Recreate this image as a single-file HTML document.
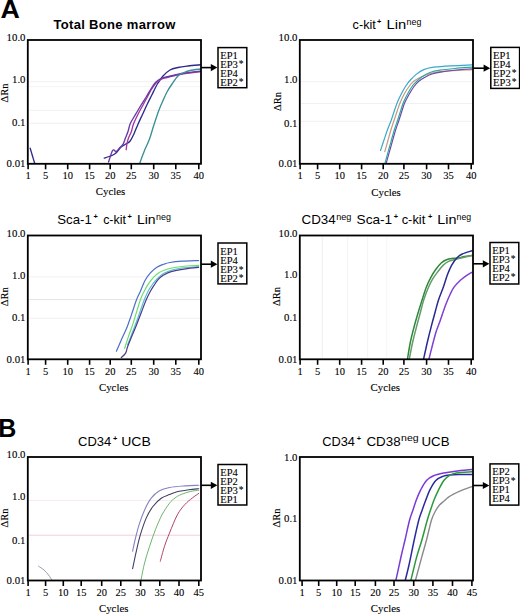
<!DOCTYPE html>
<html><head><meta charset="utf-8"><style>
html,body{margin:0;padding:0;background:#fff;width:520px;height:615px;overflow:hidden}
svg{display:block}
.s{stroke:#000;stroke-width:0.1px}
</style></head><body>
<svg width="520" height="615" viewBox="0 0 520 615">
<rect width="520" height="615" fill="#fff"/>
<line x1="28.80" y1="81.70" x2="200.00" y2="81.70" stroke="#f1f1f1" stroke-width="1"/>
<line x1="28.80" y1="86.60" x2="200.00" y2="86.60" stroke="#f4f4f4" stroke-width="1"/>
<line x1="28.80" y1="110.40" x2="200.00" y2="110.40" stroke="#f1f1f1" stroke-width="1"/>
<line x1="28.80" y1="123.30" x2="200.00" y2="123.30" stroke="#f1f1f1" stroke-width="1"/>
<line x1="300.80" y1="81.70" x2="472.00" y2="81.70" stroke="#f1f1f1" stroke-width="1"/>
<line x1="300.80" y1="103.50" x2="472.00" y2="103.50" stroke="#f1f1f1" stroke-width="1"/>
<line x1="300.80" y1="121.30" x2="472.00" y2="121.30" stroke="#f1f1f1" stroke-width="1"/>
<line x1="28.80" y1="276.90" x2="200.00" y2="276.90" stroke="#f1f1f1" stroke-width="1"/>
<line x1="28.80" y1="299.60" x2="200.00" y2="299.60" stroke="#e4e4e4" stroke-width="1"/>
<line x1="28.80" y1="318.30" x2="200.00" y2="318.30" stroke="#f1f1f1" stroke-width="1"/>
<line x1="322.20" y1="236.50" x2="322.20" y2="358.30" stroke="#eeeeee" stroke-width="1"/>
<line x1="347.60" y1="236.50" x2="347.60" y2="358.30" stroke="#f3f3f3" stroke-width="1"/>
<line x1="367.70" y1="236.50" x2="367.70" y2="358.30" stroke="#f3f3f3" stroke-width="1"/>
<line x1="386.70" y1="236.50" x2="386.70" y2="358.30" stroke="#f5f5f5" stroke-width="1"/>
<line x1="28.80" y1="535.20" x2="200.00" y2="535.20" stroke="#f0d0d4" stroke-width="1"/>
<line x1="28.80" y1="500.50" x2="200.00" y2="500.50" stroke="#f8eaec" stroke-width="1"/>
<clipPath id="cp0"><rect x="27.80" y="40.00" width="173.20" height="123.80"/></clipPath>
<clipPath id="cp1"><rect x="299.80" y="40.00" width="173.20" height="123.80"/></clipPath>
<clipPath id="cp2"><rect x="27.80" y="235.50" width="173.20" height="123.80"/></clipPath>
<clipPath id="cp3"><rect x="299.80" y="235.50" width="173.20" height="123.80"/></clipPath>
<clipPath id="cp4"><rect x="27.80" y="457.00" width="173.20" height="123.50"/></clipPath>
<clipPath id="cp5"><rect x="299.80" y="457.00" width="173.20" height="123.50"/></clipPath>
<path d="M30.20,148.20 C30.57,149.45 31.63,153.10 32.40,155.70 C33.17,158.30 34.40,162.45 34.80,163.80" fill="none" stroke="#2e2a8c" stroke-width="1.35" clip-path="url(#cp0)" stroke-linejoin="round" stroke-linecap="round"/>
<path d="M104.20,158.10 C105.03,157.83 107.33,157.27 109.20,156.50 C111.07,155.73 113.47,155.03 115.40,153.50 C117.33,151.97 119.13,148.85 120.80,147.30 C122.47,145.75 123.87,145.22 125.40,144.20 C126.93,143.18 128.60,142.87 130.00,141.20 C131.40,139.53 132.47,137.03 133.80,134.20 C135.13,131.37 136.53,127.53 138.00,124.20 C139.47,120.87 141.07,117.53 142.60,114.20 C144.13,110.87 145.67,107.40 147.20,104.20 C148.73,101.00 150.50,97.62 151.80,95.00 C153.10,92.38 153.97,90.50 155.00,88.50 C156.03,86.50 156.67,85.08 158.00,83.00 C159.33,80.92 161.00,78.17 163.00,76.00 C165.00,73.83 167.50,71.42 170.00,70.00 C172.50,68.58 175.00,68.17 178.00,67.50 C181.00,66.83 184.17,66.47 188.00,66.00 C191.83,65.53 198.83,64.92 201.00,64.70" fill="none" stroke="#2e2a8c" stroke-width="1.35" clip-path="url(#cp0)" stroke-linejoin="round" stroke-linecap="round"/>
<path d="M126.20,149.60 C126.32,148.70 126.52,146.12 126.90,144.20 C127.28,142.28 127.73,140.27 128.50,138.10 C129.27,135.93 130.68,133.52 131.50,131.20 C132.32,128.88 132.32,127.03 133.40,124.20 C134.48,121.37 136.33,117.53 138.00,114.20 C139.67,110.87 141.73,107.27 143.40,104.20 C145.07,101.13 146.73,98.17 148.00,95.80 C149.27,93.43 150.00,91.72 151.00,90.00 C152.00,88.28 152.92,86.87 154.00,85.50 C155.08,84.13 156.17,82.88 157.50,81.80 C158.83,80.72 160.42,79.72 162.00,79.00 C163.58,78.28 164.83,78.08 167.00,77.50 C169.17,76.92 172.00,76.17 175.00,75.50 C178.00,74.83 180.67,74.15 185.00,73.50 C189.33,72.85 198.33,71.92 201.00,71.60" fill="none" stroke="#a03a9e" stroke-width="1.35" clip-path="url(#cp0)" stroke-linejoin="round" stroke-linecap="round"/>
<path d="M108.50,162.00 C109.20,160.07 111.42,152.15 112.70,150.40 C113.98,148.65 114.98,151.98 116.20,151.50 C117.42,151.02 118.85,148.72 120.00,147.50 C121.15,146.28 122.20,145.77 123.10,144.20 C124.00,142.63 124.57,140.27 125.40,138.10 C126.23,135.93 127.28,133.63 128.10,131.20 C128.92,128.77 129.03,126.33 130.30,123.50 C131.57,120.67 133.90,117.28 135.70,114.20 C137.50,111.12 139.30,107.95 141.10,105.00 C142.90,102.05 145.02,98.92 146.50,96.50 C147.98,94.08 148.92,92.28 150.00,90.50 C151.08,88.72 152.00,87.22 153.00,85.80 C154.00,84.38 154.67,83.22 156.00,82.00 C157.33,80.78 159.33,79.33 161.00,78.50 C162.67,77.67 163.67,77.58 166.00,77.00 C168.33,76.42 171.83,75.67 175.00,75.00 C178.17,74.33 180.67,73.67 185.00,73.00 C189.33,72.33 198.33,71.33 201.00,71.00" fill="none" stroke="#6a3aa8" stroke-width="1.35" clip-path="url(#cp0)" stroke-linejoin="round" stroke-linecap="round"/>
<path d="M139.50,163.80 C140.38,161.47 143.12,153.97 144.80,149.80 C146.48,145.63 148.17,142.68 149.60,138.80 C151.03,134.92 151.87,131.23 153.40,126.50 C154.93,121.77 157.13,114.88 158.80,110.40 C160.47,105.92 162.03,102.67 163.40,99.60 C164.77,96.53 165.57,94.60 167.00,92.00 C168.43,89.40 170.17,86.67 172.00,84.00 C173.83,81.33 176.17,77.83 178.00,76.00 C179.83,74.17 181.00,73.92 183.00,73.00 C185.00,72.08 187.00,71.17 190.00,70.50 C193.00,69.83 199.17,69.25 201.00,69.00" fill="none" stroke="#3a8f95" stroke-width="1.35" clip-path="url(#cp0)" stroke-linejoin="round" stroke-linecap="round"/>
<path d="M380.50,150.50 C381.08,148.75 382.85,143.42 384.00,140.00 C385.15,136.58 386.18,133.33 387.40,130.00 C388.62,126.67 390.15,123.17 391.30,120.00 C392.45,116.83 393.28,113.95 394.30,111.00 C395.32,108.05 396.20,105.22 397.40,102.30 C398.60,99.38 400.05,96.30 401.50,93.50 C402.95,90.70 404.62,87.75 406.10,85.50 C407.58,83.25 408.72,81.85 410.40,80.00 C412.08,78.15 413.97,76.13 416.20,74.40 C418.43,72.67 420.92,70.80 423.80,69.60 C426.68,68.40 429.97,67.77 433.50,67.20 C437.03,66.63 438.58,66.58 445.00,66.20 C451.42,65.82 467.50,65.12 472.00,64.90" fill="none" stroke="#3aa8c8" stroke-width="1.2" clip-path="url(#cp1)" stroke-linejoin="round" stroke-linecap="round"/>
<path d="M384.80,151.60 C385.30,149.83 386.78,144.60 387.80,141.00 C388.82,137.40 389.83,133.50 390.90,130.00 C391.97,126.50 393.15,123.17 394.20,120.00 C395.25,116.83 396.18,113.95 397.20,111.00 C398.22,108.05 399.08,105.22 400.30,102.30 C401.52,99.38 402.92,96.30 404.50,93.50 C406.08,90.70 408.22,87.58 409.80,85.50 C411.38,83.42 412.30,82.33 414.00,81.00 C415.70,79.67 417.83,78.58 420.00,77.50 C422.17,76.42 424.33,75.37 427.00,74.50 C429.67,73.63 433.00,72.85 436.00,72.30 C439.00,71.75 439.00,71.65 445.00,71.20 C451.00,70.75 467.50,69.87 472.00,69.60" fill="none" stroke="#c49a80" stroke-width="1.2" clip-path="url(#cp1)" stroke-linejoin="round" stroke-linecap="round"/>
<path d="M386.00,163.80 C386.75,161.17 388.95,153.47 390.50,148.00 C392.05,142.53 393.93,135.50 395.30,131.00 C396.67,126.50 397.65,124.17 398.70,121.00 C399.75,117.83 400.63,114.95 401.60,112.00 C402.57,109.05 403.27,106.22 404.50,103.30 C405.73,100.38 407.42,97.30 409.00,94.50 C410.58,91.70 412.42,88.67 414.00,86.50 C415.58,84.33 416.75,83.00 418.50,81.50 C420.25,80.00 422.25,78.75 424.50,77.50 C426.75,76.25 429.08,74.95 432.00,74.00 C434.92,73.05 437.83,72.47 442.00,71.80 C446.17,71.13 452.00,70.50 457.00,70.00 C462.00,69.50 469.50,69.00 472.00,68.80" fill="none" stroke="#7048a8" stroke-width="1.2" clip-path="url(#cp1)" stroke-linejoin="round" stroke-linecap="round"/>
<path d="M384.80,163.80 C385.58,161.00 387.92,152.63 389.50,147.00 C391.08,141.37 392.93,134.50 394.30,130.00 C395.67,125.50 396.65,123.17 397.70,120.00 C398.75,116.83 399.63,113.95 400.60,111.00 C401.57,108.05 402.30,105.22 403.50,102.30 C404.70,99.38 406.27,96.30 407.80,93.50 C409.33,90.70 411.17,87.58 412.70,85.50 C414.23,83.42 415.37,82.50 417.00,81.00 C418.63,79.50 420.33,77.92 422.50,76.50 C424.67,75.08 427.08,73.55 430.00,72.50 C432.92,71.45 435.83,70.87 440.00,70.20 C444.17,69.53 449.67,69.00 455.00,68.50 C460.33,68.00 469.17,67.42 472.00,67.20" fill="none" stroke="#30a8a0" stroke-width="1.2" clip-path="url(#cp1)" stroke-linejoin="round" stroke-linecap="round"/>
<path d="M116.40,351.20 C117.28,349.17 120.00,342.82 121.70,339.00 C123.40,335.18 124.97,332.37 126.60,328.30 C128.23,324.23 129.87,319.32 131.50,314.60 C133.13,309.88 134.92,303.90 136.40,300.00 C137.88,296.10 138.97,294.45 140.40,291.20 C141.83,287.95 143.33,283.57 145.00,280.50 C146.67,277.43 148.35,275.05 150.40,272.80 C152.45,270.55 155.12,268.42 157.30,267.00 C159.48,265.58 161.38,265.05 163.50,264.30 C165.62,263.55 166.92,263.02 170.00,262.50 C173.08,261.98 177.23,261.52 182.00,261.20 C186.77,260.88 195.83,260.70 198.60,260.60" fill="none" stroke="#4a6ec8" stroke-width="1.2" clip-path="url(#cp2)" stroke-linejoin="round" stroke-linecap="round"/>
<path d="M124.60,348.50 C125.27,346.43 127.13,340.45 128.60,336.10 C130.07,331.75 131.45,328.42 133.40,322.40 C135.35,316.38 138.50,305.20 140.30,300.00 C142.10,294.80 142.90,293.82 144.20,291.20 C145.50,288.58 146.55,286.60 148.10,284.30 C149.65,282.00 151.72,279.32 153.50,277.40 C155.28,275.48 157.13,273.95 158.80,272.80 C160.47,271.65 161.30,271.30 163.50,270.50 C165.70,269.70 168.92,268.67 172.00,268.00 C175.08,267.33 177.57,266.95 182.00,266.50 C186.43,266.05 195.83,265.50 198.60,265.30" fill="none" stroke="#70dc70" stroke-width="1.2" clip-path="url(#cp2)" stroke-linejoin="round" stroke-linecap="round"/>
<path d="M127.60,344.80 C128.42,342.70 130.88,336.42 132.50,332.20 C134.12,327.98 135.35,324.87 137.30,319.50 C139.25,314.13 142.40,304.72 144.20,300.00 C146.00,295.28 146.80,293.70 148.10,291.20 C149.40,288.70 150.52,287.03 152.00,285.00 C153.48,282.97 155.08,280.92 157.00,279.00 C158.92,277.08 161.00,275.00 163.50,273.50 C166.00,272.00 168.92,270.92 172.00,270.00 C175.08,269.08 177.57,268.58 182.00,268.00 C186.43,267.42 195.83,266.75 198.60,266.50" fill="none" stroke="#58c0c8" stroke-width="1.2" clip-path="url(#cp2)" stroke-linejoin="round" stroke-linecap="round"/>
<path d="M121.30,357.50 C122.02,356.77 124.55,354.88 125.60,353.10 C126.65,351.32 126.62,349.48 127.60,346.80 C128.58,344.12 130.03,340.58 131.50,337.00 C132.97,333.42 134.78,329.35 136.40,325.30 C138.02,321.25 139.58,316.92 141.20,312.70 C142.82,308.48 144.57,303.58 146.10,300.00 C147.63,296.42 149.05,293.68 150.40,291.20 C151.75,288.72 152.92,287.02 154.20,285.10 C155.48,283.18 156.55,281.37 158.10,279.70 C159.65,278.03 161.45,276.42 163.50,275.10 C165.55,273.78 166.68,272.85 170.40,271.80 C174.12,270.75 181.10,269.53 185.80,268.80 C190.50,268.07 196.47,267.63 198.60,267.40" fill="none" stroke="#4a3a90" stroke-width="1.2" clip-path="url(#cp2)" stroke-linejoin="round" stroke-linecap="round"/>
<path d="M407.30,360.00 C407.83,356.92 409.28,347.33 410.50,341.50 C411.72,335.67 413.27,330.00 414.60,325.00 C415.93,320.00 417.25,315.67 418.50,311.50 C419.75,307.33 420.80,304.03 422.10,300.00 C423.40,295.97 424.88,291.00 426.30,287.30 C427.72,283.60 429.00,280.80 430.60,277.80 C432.20,274.80 434.13,271.77 435.90,269.30 C437.67,266.83 439.43,264.58 441.20,263.00 C442.97,261.42 444.75,260.55 446.50,259.80 C448.25,259.05 449.95,258.77 451.70,258.50 C453.45,258.23 454.88,258.52 457.00,258.20 C459.12,257.88 461.92,257.07 464.40,256.60 C466.88,256.13 470.65,255.60 471.90,255.40" fill="none" stroke="#2a8a3a" stroke-width="1.5" clip-path="url(#cp3)" stroke-linejoin="round" stroke-linecap="round"/>
<path d="M409.10,360.00 C409.72,356.92 411.48,347.33 412.80,341.50 C414.12,335.67 415.72,329.92 417.00,325.00 C418.28,320.08 419.38,316.17 420.50,312.00 C421.62,307.83 422.37,304.12 423.70,300.00 C425.03,295.88 427.00,290.82 428.50,287.30 C430.00,283.78 431.12,281.53 432.70,278.90 C434.28,276.27 436.23,273.80 438.00,271.50 C439.77,269.20 441.53,266.78 443.30,265.10 C445.07,263.42 446.83,262.28 448.60,261.40 C450.37,260.52 451.62,260.42 453.90,259.80 C456.18,259.18 459.30,258.40 462.30,257.70 C465.30,257.00 470.30,255.95 471.90,255.60" fill="none" stroke="#6a9a6a" stroke-width="1.5" clip-path="url(#cp3)" stroke-linejoin="round" stroke-linecap="round"/>
<path d="M423.40,360.00 C424.08,356.92 426.13,347.32 427.50,341.50 C428.87,335.68 430.30,330.10 431.60,325.10 C432.90,320.10 434.15,315.68 435.30,311.50 C436.45,307.32 437.17,304.03 438.50,300.00 C439.83,295.97 441.80,291.53 443.30,287.30 C444.80,283.07 446.10,278.30 447.50,274.60 C448.90,270.90 450.12,267.92 451.70,265.10 C453.28,262.28 455.23,259.55 457.00,257.70 C458.77,255.85 459.82,255.15 462.30,254.00 C464.78,252.85 470.30,251.33 471.90,250.80" fill="none" stroke="#2a2a90" stroke-width="1.5" clip-path="url(#cp3)" stroke-linejoin="round" stroke-linecap="round"/>
<path d="M428.70,360.00 C429.33,357.50 431.28,349.67 432.50,345.00 C433.72,340.33 434.98,335.33 436.00,332.00 C437.02,328.67 437.87,327.00 438.60,325.00 C439.33,323.00 439.20,323.40 440.40,320.00 C441.60,316.60 444.13,308.97 445.80,304.60 C447.47,300.23 449.00,296.75 450.40,293.80 C451.80,290.85 452.53,289.15 454.20,286.90 C455.87,284.65 458.43,282.15 460.40,280.30 C462.37,278.45 464.08,277.13 466.00,275.80 C467.92,274.47 470.92,272.88 471.90,272.30" fill="none" stroke="#8040d0" stroke-width="1.5" clip-path="url(#cp3)" stroke-linejoin="round" stroke-linecap="round"/>
<path d="M132.60,551.30 C133.08,549.08 134.33,542.70 135.50,538.00 C136.67,533.30 138.08,527.78 139.60,523.10 C141.12,518.42 142.67,514.05 144.60,509.90 C146.53,505.75 148.72,501.38 151.20,498.20 C153.68,495.02 156.45,492.58 159.50,490.80 C162.55,489.02 165.28,488.32 169.50,487.50 C173.72,486.68 179.92,486.27 184.80,485.90 C189.68,485.53 196.47,485.40 198.80,485.30" fill="none" stroke="#8484c4" stroke-width="1.1" clip-path="url(#cp4)" stroke-linejoin="round" stroke-linecap="round"/>
<path d="M132.60,568.70 C133.22,565.80 135.00,556.97 136.30,551.30 C137.60,545.63 138.75,540.23 140.40,534.70 C142.05,529.17 144.12,522.80 146.20,518.10 C148.28,513.40 150.40,509.82 152.90,506.50 C155.40,503.18 158.43,500.18 161.20,498.20 C163.97,496.22 167.12,495.60 169.50,494.60 C171.88,493.60 172.32,493.00 175.50,492.20 C178.68,491.40 184.72,490.38 188.60,489.80 C192.48,489.22 197.10,488.88 198.80,488.70" fill="none" stroke="#404064" stroke-width="1.1" clip-path="url(#cp4)" stroke-linejoin="round" stroke-linecap="round"/>
<path d="M140.80,581.00 C141.43,577.98 143.13,568.68 144.60,562.90 C146.07,557.12 147.80,551.82 149.60,546.30 C151.40,540.78 153.33,535.05 155.40,529.80 C157.47,524.55 159.65,519.23 162.00,514.80 C164.35,510.37 167.33,506.00 169.50,503.20 C171.67,500.40 173.07,499.45 175.00,498.00 C176.93,496.55 178.53,495.58 181.10,494.50 C183.67,493.42 187.45,492.22 190.40,491.50 C193.35,490.78 197.40,490.42 198.80,490.20" fill="none" stroke="#6cb46c" stroke-width="1.0" clip-path="url(#cp4)" stroke-linejoin="round" stroke-linecap="round"/>
<path d="M160.30,561.30 C161.00,558.80 162.97,551.00 164.50,546.30 C166.03,541.60 167.37,538.33 169.50,533.10 C171.63,527.87 174.75,519.65 177.30,514.90 C179.85,510.15 182.30,507.42 184.80,504.60 C187.30,501.78 189.97,499.87 192.30,498.00 C194.63,496.13 197.72,494.17 198.80,493.40" fill="none" stroke="#b04468" stroke-width="1.0" clip-path="url(#cp4)" stroke-linejoin="round" stroke-linecap="round"/>
<path d="M38.50,566.20 C39.42,566.83 42.33,568.53 44.00,570.00 C45.67,571.47 47.08,573.17 48.50,575.00 C49.92,576.83 51.83,580.00 52.50,581.00" fill="none" stroke="#9a9aaa" stroke-width="1.0" clip-path="url(#cp4)" stroke-linejoin="round" stroke-linecap="round"/>
<path d="M395.50,582.00 C396.47,577.58 399.72,562.50 401.30,555.50 C402.88,548.50 403.62,545.92 405.00,540.00 C406.38,534.08 408.27,525.00 409.60,520.00 C410.93,515.00 411.88,513.33 413.00,510.00 C414.12,506.67 415.00,503.38 416.30,500.00 C417.60,496.62 419.10,492.95 420.80,489.70 C422.50,486.45 424.38,482.82 426.50,480.50 C428.62,478.18 430.62,477.05 433.50,475.80 C436.38,474.55 440.15,473.77 443.80,473.00 C447.45,472.23 450.70,471.78 455.40,471.20 C460.10,470.62 469.23,469.78 472.00,469.50" fill="none" stroke="#7a3ad8" stroke-width="1.5" clip-path="url(#cp5)" stroke-linejoin="round" stroke-linecap="round"/>
<path d="M404.80,582.00 C405.50,579.17 407.43,572.00 409.00,565.00 C410.57,558.00 412.57,547.50 414.20,540.00 C415.83,532.50 417.47,525.00 418.80,520.00 C420.13,515.00 421.07,513.25 422.20,510.00 C423.33,506.75 424.30,503.88 425.60,500.50 C426.90,497.12 428.30,493.03 430.00,489.70 C431.70,486.37 433.68,482.72 435.80,480.50 C437.92,478.28 440.40,477.33 442.70,476.40 C445.00,475.47 446.53,475.22 449.60,474.90 C452.67,474.58 457.37,474.57 461.10,474.50 C464.83,474.43 470.18,474.50 472.00,474.50" fill="none" stroke="#2a2aa0" stroke-width="1.5" clip-path="url(#cp5)" stroke-linejoin="round" stroke-linecap="round"/>
<path d="M410.50,582.00 C411.50,577.93 414.60,564.60 416.50,557.60 C418.40,550.60 420.10,546.27 421.90,540.00 C423.70,533.73 425.87,525.00 427.30,520.00 C428.73,515.00 429.38,513.33 430.50,510.00 C431.62,506.67 432.73,503.20 434.00,500.00 C435.27,496.80 436.47,494.05 438.10,490.80 C439.73,487.55 441.88,483.08 443.80,480.50 C445.72,477.92 447.48,476.55 449.60,475.30 C451.72,474.05 452.77,473.58 456.50,473.00 C460.23,472.42 469.42,472.00 472.00,471.80" fill="none" stroke="#2a9a3a" stroke-width="1.5" clip-path="url(#cp5)" stroke-linejoin="round" stroke-linecap="round"/>
<path d="M415.00,582.00 C416.10,577.93 419.68,564.60 421.60,557.60 C423.52,550.60 424.85,546.27 426.50,540.00 C428.15,533.73 430.00,524.83 431.50,520.00 C433.00,515.17 434.17,513.50 435.50,511.00 C436.83,508.50 438.12,506.63 439.50,505.00 C440.88,503.37 442.38,502.45 443.80,501.20 C445.22,499.95 446.45,498.65 448.00,497.50 C449.55,496.35 450.53,495.60 453.10,494.30 C455.67,493.00 460.25,490.98 463.40,489.70 C466.55,488.42 470.57,487.12 472.00,486.60" fill="none" stroke="#8a8a8a" stroke-width="1.4" clip-path="url(#cp5)" stroke-linejoin="round" stroke-linecap="round"/>
<rect x="27.80" y="40.00" width="173.20" height="123.80" fill="none" stroke="#000" stroke-width="1.8"/>
<line x1="28.10" y1="163.80" x2="28.10" y2="169.30" stroke="#000" stroke-width="1.6"/>
<text x="28.10" y="179.10" class="s" font-family='"Liberation Serif", serif' font-size="10.5" text-anchor="middle">1</text>
<line x1="45.60" y1="163.80" x2="45.60" y2="169.30" stroke="#000" stroke-width="1.6"/>
<text x="45.60" y="179.10" class="s" font-family='"Liberation Serif", serif' font-size="10.5" text-anchor="middle">5</text>
<line x1="67.70" y1="163.80" x2="67.70" y2="169.30" stroke="#000" stroke-width="1.6"/>
<text x="67.70" y="179.10" class="s" font-family='"Liberation Serif", serif' font-size="10.5" text-anchor="middle">10</text>
<line x1="89.60" y1="163.80" x2="89.60" y2="169.30" stroke="#000" stroke-width="1.6"/>
<text x="89.60" y="179.10" class="s" font-family='"Liberation Serif", serif' font-size="10.5" text-anchor="middle">15</text>
<line x1="110.20" y1="163.80" x2="110.20" y2="169.30" stroke="#000" stroke-width="1.6"/>
<text x="110.20" y="179.10" class="s" font-family='"Liberation Serif", serif' font-size="10.5" text-anchor="middle">20</text>
<line x1="131.30" y1="163.80" x2="131.30" y2="169.30" stroke="#000" stroke-width="1.6"/>
<text x="131.30" y="179.10" class="s" font-family='"Liberation Serif", serif' font-size="10.5" text-anchor="middle">25</text>
<line x1="153.70" y1="163.80" x2="153.70" y2="169.30" stroke="#000" stroke-width="1.6"/>
<text x="153.70" y="179.10" class="s" font-family='"Liberation Serif", serif' font-size="10.5" text-anchor="middle">30</text>
<line x1="175.80" y1="163.80" x2="175.80" y2="169.30" stroke="#000" stroke-width="1.6"/>
<text x="175.80" y="179.10" class="s" font-family='"Liberation Serif", serif' font-size="10.5" text-anchor="middle">35</text>
<line x1="198.80" y1="163.80" x2="198.80" y2="169.30" stroke="#000" stroke-width="1.6"/>
<text x="198.80" y="179.10" class="s" font-family='"Liberation Serif", serif' font-size="10.5" text-anchor="middle">40</text>
<text x="25.50" y="41.00" class="s" font-family='"Liberation Serif", serif' font-size="10.8" text-anchor="end">10.0</text>
<text x="25.50" y="83.00" class="s" font-family='"Liberation Serif", serif' font-size="10.8" text-anchor="end">1.0</text>
<text x="25.50" y="125.80" class="s" font-family='"Liberation Serif", serif' font-size="10.8" text-anchor="end">0.1</text>
<text x="25.50" y="167.10" class="s" font-family='"Liberation Serif", serif' font-size="10.8" text-anchor="end">0.01</text>
<text transform="translate(7.90,93.00) rotate(-90)" class="s" font-family='"Liberation Serif", serif' font-size="10.5" text-anchor="middle">&#916;Rn</text>
<text x="110.50" y="194.90" class="s" font-family='"Liberation Serif", serif' font-size="10.8" text-anchor="middle">Cycles</text>
<rect x="218.00" y="47.60" width="28.8" height="40.1" fill="#fff" stroke="#000" stroke-width="1.5"/>
<text x="220.20" y="59.00" class="s" font-family='"Liberation Serif", serif' font-size="11" textLength="17.6" lengthAdjust="spacingAndGlyphs">EP1</text>
<text x="220.20" y="67.90" class="s" font-family='"Liberation Serif", serif' font-size="11" textLength="23.5" lengthAdjust="spacingAndGlyphs">EP3<tspan font-size="10" dx="1.0" dy="-0.5">*</tspan></text>
<text x="220.20" y="76.80" class="s" font-family='"Liberation Serif", serif' font-size="11" textLength="17.6" lengthAdjust="spacingAndGlyphs">EP4</text>
<text x="220.20" y="85.70" class="s" font-family='"Liberation Serif", serif' font-size="11" textLength="23.5" lengthAdjust="spacingAndGlyphs">EP2<tspan font-size="10" dx="1.0" dy="-0.5">*</tspan></text>
<line x1="201.00" y1="67.60" x2="214.00" y2="67.60" stroke="#000" stroke-width="1.6"/>
<path d="M217.40,67.60 L210.80,64.00 L210.80,71.20 Z" fill="#000"/>
<rect x="299.80" y="40.00" width="173.20" height="123.80" fill="none" stroke="#000" stroke-width="1.8"/>
<line x1="300.10" y1="163.80" x2="300.10" y2="169.30" stroke="#000" stroke-width="1.6"/>
<text x="300.10" y="179.10" class="s" font-family='"Liberation Serif", serif' font-size="10.5" text-anchor="middle">1</text>
<line x1="317.60" y1="163.80" x2="317.60" y2="169.30" stroke="#000" stroke-width="1.6"/>
<text x="317.60" y="179.10" class="s" font-family='"Liberation Serif", serif' font-size="10.5" text-anchor="middle">5</text>
<line x1="339.70" y1="163.80" x2="339.70" y2="169.30" stroke="#000" stroke-width="1.6"/>
<text x="339.70" y="179.10" class="s" font-family='"Liberation Serif", serif' font-size="10.5" text-anchor="middle">10</text>
<line x1="361.60" y1="163.80" x2="361.60" y2="169.30" stroke="#000" stroke-width="1.6"/>
<text x="361.60" y="179.10" class="s" font-family='"Liberation Serif", serif' font-size="10.5" text-anchor="middle">15</text>
<line x1="383.20" y1="163.80" x2="383.20" y2="169.30" stroke="#000" stroke-width="1.6"/>
<text x="383.20" y="179.10" class="s" font-family='"Liberation Serif", serif' font-size="10.5" text-anchor="middle">20</text>
<line x1="403.90" y1="163.80" x2="403.90" y2="169.30" stroke="#000" stroke-width="1.6"/>
<text x="403.90" y="179.10" class="s" font-family='"Liberation Serif", serif' font-size="10.5" text-anchor="middle">25</text>
<line x1="426.60" y1="163.80" x2="426.60" y2="169.30" stroke="#000" stroke-width="1.6"/>
<text x="426.60" y="179.10" class="s" font-family='"Liberation Serif", serif' font-size="10.5" text-anchor="middle">30</text>
<line x1="448.50" y1="163.80" x2="448.50" y2="169.30" stroke="#000" stroke-width="1.6"/>
<text x="448.50" y="179.10" class="s" font-family='"Liberation Serif", serif' font-size="10.5" text-anchor="middle">35</text>
<line x1="471.20" y1="163.80" x2="471.20" y2="169.30" stroke="#000" stroke-width="1.6"/>
<text x="471.20" y="179.10" class="s" font-family='"Liberation Serif", serif' font-size="10.5" text-anchor="middle">40</text>
<text x="297.50" y="41.40" class="s" font-family='"Liberation Serif", serif' font-size="10.8" text-anchor="end">10.0</text>
<text x="297.50" y="82.60" class="s" font-family='"Liberation Serif", serif' font-size="10.8" text-anchor="end">1.0</text>
<text x="297.50" y="126.60" class="s" font-family='"Liberation Serif", serif' font-size="10.8" text-anchor="end">0.1</text>
<text x="297.50" y="167.10" class="s" font-family='"Liberation Serif", serif' font-size="10.8" text-anchor="end">0.01</text>
<text transform="translate(280.50,101.50) rotate(-90)" class="s" font-family='"Liberation Serif", serif' font-size="10.5" text-anchor="middle">&#916;Rn</text>
<text x="386.00" y="195.50" class="s" font-family='"Liberation Serif", serif' font-size="10.8" text-anchor="middle">Cycles</text>
<rect x="490.80" y="47.40" width="28.8" height="41.0" fill="#fff" stroke="#000" stroke-width="1.5"/>
<text x="493.00" y="59.00" class="s" font-family='"Liberation Serif", serif' font-size="11" textLength="17.6" lengthAdjust="spacingAndGlyphs">EP1</text>
<text x="493.00" y="67.90" class="s" font-family='"Liberation Serif", serif' font-size="11" textLength="17.6" lengthAdjust="spacingAndGlyphs">EP4</text>
<text x="493.00" y="76.80" class="s" font-family='"Liberation Serif", serif' font-size="11" textLength="23.5" lengthAdjust="spacingAndGlyphs">EP2<tspan font-size="10" dx="1.0" dy="-0.5">*</tspan></text>
<text x="493.00" y="85.70" class="s" font-family='"Liberation Serif", serif' font-size="11" textLength="23.5" lengthAdjust="spacingAndGlyphs">EP3<tspan font-size="10" dx="1.0" dy="-0.5">*</tspan></text>
<line x1="473.00" y1="68.20" x2="486.80" y2="68.20" stroke="#000" stroke-width="1.6"/>
<path d="M490.20,68.20 L483.60,64.60 L483.60,71.80 Z" fill="#000"/>
<rect x="27.80" y="235.50" width="173.20" height="123.80" fill="none" stroke="#000" stroke-width="1.8"/>
<line x1="28.10" y1="359.30" x2="28.10" y2="364.80" stroke="#000" stroke-width="1.6"/>
<text x="28.10" y="374.60" class="s" font-family='"Liberation Serif", serif' font-size="10.5" text-anchor="middle">1</text>
<line x1="45.60" y1="359.30" x2="45.60" y2="364.80" stroke="#000" stroke-width="1.6"/>
<text x="45.60" y="374.60" class="s" font-family='"Liberation Serif", serif' font-size="10.5" text-anchor="middle">5</text>
<line x1="67.70" y1="359.30" x2="67.70" y2="364.80" stroke="#000" stroke-width="1.6"/>
<text x="67.70" y="374.60" class="s" font-family='"Liberation Serif", serif' font-size="10.5" text-anchor="middle">10</text>
<line x1="89.60" y1="359.30" x2="89.60" y2="364.80" stroke="#000" stroke-width="1.6"/>
<text x="89.60" y="374.60" class="s" font-family='"Liberation Serif", serif' font-size="10.5" text-anchor="middle">15</text>
<line x1="110.20" y1="359.30" x2="110.20" y2="364.80" stroke="#000" stroke-width="1.6"/>
<text x="110.20" y="374.60" class="s" font-family='"Liberation Serif", serif' font-size="10.5" text-anchor="middle">20</text>
<line x1="131.30" y1="359.30" x2="131.30" y2="364.80" stroke="#000" stroke-width="1.6"/>
<text x="131.30" y="374.60" class="s" font-family='"Liberation Serif", serif' font-size="10.5" text-anchor="middle">25</text>
<line x1="153.70" y1="359.30" x2="153.70" y2="364.80" stroke="#000" stroke-width="1.6"/>
<text x="153.70" y="374.60" class="s" font-family='"Liberation Serif", serif' font-size="10.5" text-anchor="middle">30</text>
<line x1="175.80" y1="359.30" x2="175.80" y2="364.80" stroke="#000" stroke-width="1.6"/>
<text x="175.80" y="374.60" class="s" font-family='"Liberation Serif", serif' font-size="10.5" text-anchor="middle">35</text>
<line x1="198.80" y1="359.30" x2="198.80" y2="364.80" stroke="#000" stroke-width="1.6"/>
<text x="198.80" y="374.60" class="s" font-family='"Liberation Serif", serif' font-size="10.5" text-anchor="middle">40</text>
<text x="25.50" y="237.30" class="s" font-family='"Liberation Serif", serif' font-size="10.8" text-anchor="end">10.0</text>
<text x="25.50" y="278.90" class="s" font-family='"Liberation Serif", serif' font-size="10.8" text-anchor="end">1.0</text>
<text x="25.50" y="321.30" class="s" font-family='"Liberation Serif", serif' font-size="10.8" text-anchor="end">0.1</text>
<text x="25.50" y="362.80" class="s" font-family='"Liberation Serif", serif' font-size="10.8" text-anchor="end">0.01</text>
<text transform="translate(8.30,296.80) rotate(-90)" class="s" font-family='"Liberation Serif", serif' font-size="10.5" text-anchor="middle">&#916;Rn</text>
<text x="113.70" y="391.00" class="s" font-family='"Liberation Serif", serif' font-size="10.8" text-anchor="middle">Cycles</text>
<rect x="218.00" y="243.00" width="28.8" height="40.9" fill="#fff" stroke="#000" stroke-width="1.5"/>
<text x="220.20" y="255.20" class="s" font-family='"Liberation Serif", serif' font-size="11" textLength="17.6" lengthAdjust="spacingAndGlyphs">EP1</text>
<text x="220.20" y="264.10" class="s" font-family='"Liberation Serif", serif' font-size="11" textLength="17.6" lengthAdjust="spacingAndGlyphs">EP4</text>
<text x="220.20" y="273.00" class="s" font-family='"Liberation Serif", serif' font-size="11" textLength="23.5" lengthAdjust="spacingAndGlyphs">EP3<tspan font-size="10" dx="1.0" dy="-0.5">*</tspan></text>
<text x="220.20" y="281.90" class="s" font-family='"Liberation Serif", serif' font-size="11" textLength="23.5" lengthAdjust="spacingAndGlyphs">EP2<tspan font-size="10" dx="1.0" dy="-0.5">*</tspan></text>
<line x1="201.00" y1="264.20" x2="214.00" y2="264.20" stroke="#000" stroke-width="1.6"/>
<path d="M217.40,264.20 L210.80,260.60 L210.80,267.80 Z" fill="#000"/>
<rect x="299.80" y="235.50" width="173.20" height="123.80" fill="none" stroke="#000" stroke-width="1.8"/>
<line x1="300.10" y1="359.30" x2="300.10" y2="364.80" stroke="#000" stroke-width="1.6"/>
<text x="300.10" y="374.60" class="s" font-family='"Liberation Serif", serif' font-size="10.5" text-anchor="middle">1</text>
<line x1="317.60" y1="359.30" x2="317.60" y2="364.80" stroke="#000" stroke-width="1.6"/>
<text x="317.60" y="374.60" class="s" font-family='"Liberation Serif", serif' font-size="10.5" text-anchor="middle">5</text>
<line x1="339.70" y1="359.30" x2="339.70" y2="364.80" stroke="#000" stroke-width="1.6"/>
<text x="339.70" y="374.60" class="s" font-family='"Liberation Serif", serif' font-size="10.5" text-anchor="middle">10</text>
<line x1="361.60" y1="359.30" x2="361.60" y2="364.80" stroke="#000" stroke-width="1.6"/>
<text x="361.60" y="374.60" class="s" font-family='"Liberation Serif", serif' font-size="10.5" text-anchor="middle">15</text>
<line x1="383.20" y1="359.30" x2="383.20" y2="364.80" stroke="#000" stroke-width="1.6"/>
<text x="383.20" y="374.60" class="s" font-family='"Liberation Serif", serif' font-size="10.5" text-anchor="middle">20</text>
<line x1="403.90" y1="359.30" x2="403.90" y2="364.80" stroke="#000" stroke-width="1.6"/>
<text x="403.90" y="374.60" class="s" font-family='"Liberation Serif", serif' font-size="10.5" text-anchor="middle">25</text>
<line x1="426.60" y1="359.30" x2="426.60" y2="364.80" stroke="#000" stroke-width="1.6"/>
<text x="426.60" y="374.60" class="s" font-family='"Liberation Serif", serif' font-size="10.5" text-anchor="middle">30</text>
<line x1="448.50" y1="359.30" x2="448.50" y2="364.80" stroke="#000" stroke-width="1.6"/>
<text x="448.50" y="374.60" class="s" font-family='"Liberation Serif", serif' font-size="10.5" text-anchor="middle">35</text>
<line x1="471.20" y1="359.30" x2="471.20" y2="364.80" stroke="#000" stroke-width="1.6"/>
<text x="471.20" y="374.60" class="s" font-family='"Liberation Serif", serif' font-size="10.5" text-anchor="middle">40</text>
<text x="297.50" y="237.30" class="s" font-family='"Liberation Serif", serif' font-size="10.8" text-anchor="end">10.0</text>
<text x="297.50" y="277.90" class="s" font-family='"Liberation Serif", serif' font-size="10.8" text-anchor="end">1.0</text>
<text x="297.50" y="321.30" class="s" font-family='"Liberation Serif", serif' font-size="10.8" text-anchor="end">0.1</text>
<text x="297.50" y="362.80" class="s" font-family='"Liberation Serif", serif' font-size="10.8" text-anchor="end">0.01</text>
<text transform="translate(280.20,296.50) rotate(-90)" class="s" font-family='"Liberation Serif", serif' font-size="10.5" text-anchor="middle">&#916;Rn</text>
<text x="385.25" y="390.50" class="s" font-family='"Liberation Serif", serif' font-size="10.8" text-anchor="middle">Cycles</text>
<rect x="490.00" y="242.50" width="28.8" height="41.5" fill="#fff" stroke="#000" stroke-width="1.5"/>
<text x="492.20" y="254.00" class="s" font-family='"Liberation Serif", serif' font-size="11" textLength="17.6" lengthAdjust="spacingAndGlyphs">EP1</text>
<text x="492.20" y="262.90" class="s" font-family='"Liberation Serif", serif' font-size="11" textLength="23.5" lengthAdjust="spacingAndGlyphs">EP3<tspan font-size="10" dx="1.0" dy="-0.5">*</tspan></text>
<text x="492.20" y="271.80" class="s" font-family='"Liberation Serif", serif' font-size="11" textLength="17.6" lengthAdjust="spacingAndGlyphs">EP4</text>
<text x="492.20" y="280.70" class="s" font-family='"Liberation Serif", serif' font-size="11" textLength="23.5" lengthAdjust="spacingAndGlyphs">EP2<tspan font-size="10" dx="1.0" dy="-0.5">*</tspan></text>
<line x1="473.00" y1="263.80" x2="486.00" y2="263.80" stroke="#000" stroke-width="1.6"/>
<path d="M489.40,263.80 L482.80,260.20 L482.80,267.40 Z" fill="#000"/>
<rect x="27.80" y="457.00" width="173.20" height="123.50" fill="none" stroke="#000" stroke-width="1.8"/>
<line x1="28.10" y1="580.50" x2="28.10" y2="586.00" stroke="#000" stroke-width="1.6"/>
<text x="28.10" y="595.80" class="s" font-family='"Liberation Serif", serif' font-size="10.5" text-anchor="middle">1</text>
<line x1="45.60" y1="580.50" x2="45.60" y2="586.00" stroke="#000" stroke-width="1.6"/>
<text x="45.60" y="595.80" class="s" font-family='"Liberation Serif", serif' font-size="10.5" text-anchor="middle">5</text>
<line x1="63.30" y1="580.50" x2="63.30" y2="586.00" stroke="#000" stroke-width="1.6"/>
<text x="63.30" y="595.80" class="s" font-family='"Liberation Serif", serif' font-size="10.5" text-anchor="middle">10</text>
<line x1="81.20" y1="580.50" x2="81.20" y2="586.00" stroke="#000" stroke-width="1.6"/>
<text x="81.20" y="595.80" class="s" font-family='"Liberation Serif", serif' font-size="10.5" text-anchor="middle">15</text>
<line x1="101.70" y1="580.50" x2="101.70" y2="586.00" stroke="#000" stroke-width="1.6"/>
<text x="101.70" y="595.80" class="s" font-family='"Liberation Serif", serif' font-size="10.5" text-anchor="middle">20</text>
<line x1="120.80" y1="580.50" x2="120.80" y2="586.00" stroke="#000" stroke-width="1.6"/>
<text x="120.80" y="595.80" class="s" font-family='"Liberation Serif", serif' font-size="10.5" text-anchor="middle">25</text>
<line x1="140.60" y1="580.50" x2="140.60" y2="586.00" stroke="#000" stroke-width="1.6"/>
<text x="140.60" y="595.80" class="s" font-family='"Liberation Serif", serif' font-size="10.5" text-anchor="middle">30</text>
<line x1="159.80" y1="580.50" x2="159.80" y2="586.00" stroke="#000" stroke-width="1.6"/>
<text x="159.80" y="595.80" class="s" font-family='"Liberation Serif", serif' font-size="10.5" text-anchor="middle">35</text>
<line x1="179.00" y1="580.50" x2="179.00" y2="586.00" stroke="#000" stroke-width="1.6"/>
<text x="179.00" y="595.80" class="s" font-family='"Liberation Serif", serif' font-size="10.5" text-anchor="middle">40</text>
<line x1="198.80" y1="580.50" x2="198.80" y2="586.00" stroke="#000" stroke-width="1.6"/>
<text x="198.80" y="595.80" class="s" font-family='"Liberation Serif", serif' font-size="10.5" text-anchor="middle">45</text>
<text x="25.50" y="458.10" class="s" font-family='"Liberation Serif", serif' font-size="10.8" text-anchor="end">10.0</text>
<text x="25.50" y="500.30" class="s" font-family='"Liberation Serif", serif' font-size="10.8" text-anchor="end">1.0</text>
<text x="25.50" y="543.60" class="s" font-family='"Liberation Serif", serif' font-size="10.8" text-anchor="end">0.1</text>
<text x="25.50" y="584.10" class="s" font-family='"Liberation Serif", serif' font-size="10.8" text-anchor="end">0.01</text>
<text transform="translate(8.30,518.10) rotate(-90)" class="s" font-family='"Liberation Serif", serif' font-size="10.5" text-anchor="middle">&#916;Rn</text>
<text x="113.70" y="612.40" class="s" font-family='"Liberation Serif", serif' font-size="10.8" text-anchor="middle">Cycles</text>
<rect x="218.00" y="464.50" width="28.8" height="40.5" fill="#fff" stroke="#000" stroke-width="1.5"/>
<text x="220.20" y="475.90" class="s" font-family='"Liberation Serif", serif' font-size="11" textLength="17.6" lengthAdjust="spacingAndGlyphs">EP4</text>
<text x="220.20" y="484.80" class="s" font-family='"Liberation Serif", serif' font-size="11" textLength="17.6" lengthAdjust="spacingAndGlyphs">EP2</text>
<text x="220.20" y="493.70" class="s" font-family='"Liberation Serif", serif' font-size="11" textLength="23.5" lengthAdjust="spacingAndGlyphs">EP3<tspan font-size="10" dx="1.0" dy="-0.5">*</tspan></text>
<text x="220.20" y="502.60" class="s" font-family='"Liberation Serif", serif' font-size="11" textLength="17.6" lengthAdjust="spacingAndGlyphs">EP1</text>
<line x1="201.00" y1="485.30" x2="214.00" y2="485.30" stroke="#000" stroke-width="1.6"/>
<path d="M217.40,485.30 L210.80,481.70 L210.80,488.90 Z" fill="#000"/>
<rect x="299.80" y="457.00" width="173.20" height="123.50" fill="none" stroke="#000" stroke-width="1.8"/>
<line x1="302.10" y1="580.50" x2="302.10" y2="586.00" stroke="#000" stroke-width="1.6"/>
<text x="302.10" y="595.80" class="s" font-family='"Liberation Serif", serif' font-size="10.5" text-anchor="middle">1</text>
<line x1="318.70" y1="580.50" x2="318.70" y2="586.00" stroke="#000" stroke-width="1.6"/>
<text x="318.70" y="595.80" class="s" font-family='"Liberation Serif", serif' font-size="10.5" text-anchor="middle">5</text>
<line x1="336.70" y1="580.50" x2="336.70" y2="586.00" stroke="#000" stroke-width="1.6"/>
<text x="336.70" y="595.80" class="s" font-family='"Liberation Serif", serif' font-size="10.5" text-anchor="middle">10</text>
<line x1="355.20" y1="580.50" x2="355.20" y2="586.00" stroke="#000" stroke-width="1.6"/>
<text x="355.20" y="595.80" class="s" font-family='"Liberation Serif", serif' font-size="10.5" text-anchor="middle">15</text>
<line x1="375.40" y1="580.50" x2="375.40" y2="586.00" stroke="#000" stroke-width="1.6"/>
<text x="375.40" y="595.80" class="s" font-family='"Liberation Serif", serif' font-size="10.5" text-anchor="middle">20</text>
<line x1="394.00" y1="580.50" x2="394.00" y2="586.00" stroke="#000" stroke-width="1.6"/>
<text x="394.00" y="595.80" class="s" font-family='"Liberation Serif", serif' font-size="10.5" text-anchor="middle">25</text>
<line x1="413.70" y1="580.50" x2="413.70" y2="586.00" stroke="#000" stroke-width="1.6"/>
<text x="413.70" y="595.80" class="s" font-family='"Liberation Serif", serif' font-size="10.5" text-anchor="middle">30</text>
<line x1="432.90" y1="580.50" x2="432.90" y2="586.00" stroke="#000" stroke-width="1.6"/>
<text x="432.90" y="595.80" class="s" font-family='"Liberation Serif", serif' font-size="10.5" text-anchor="middle">35</text>
<line x1="452.50" y1="580.50" x2="452.50" y2="586.00" stroke="#000" stroke-width="1.6"/>
<text x="452.50" y="595.80" class="s" font-family='"Liberation Serif", serif' font-size="10.5" text-anchor="middle">40</text>
<line x1="471.90" y1="580.50" x2="471.90" y2="586.00" stroke="#000" stroke-width="1.6"/>
<text x="471.90" y="595.80" class="s" font-family='"Liberation Serif", serif' font-size="10.5" text-anchor="middle">45</text>
<text x="297.50" y="460.50" class="s" font-family='"Liberation Serif", serif' font-size="10.8" text-anchor="end">1.0</text>
<text x="297.50" y="522.10" class="s" font-family='"Liberation Serif", serif' font-size="10.8" text-anchor="end">0.1</text>
<text x="297.50" y="584.10" class="s" font-family='"Liberation Serif", serif' font-size="10.8" text-anchor="end">0.01</text>
<text transform="translate(280.00,517.90) rotate(-90)" class="s" font-family='"Liberation Serif", serif' font-size="10.5" text-anchor="middle">&#916;Rn</text>
<text x="385.50" y="612.00" class="s" font-family='"Liberation Serif", serif' font-size="10.8" text-anchor="middle">Cycles</text>
<rect x="490.00" y="463.90" width="28.8" height="41.2" fill="#fff" stroke="#000" stroke-width="1.5"/>
<text x="492.20" y="475.30" class="s" font-family='"Liberation Serif", serif' font-size="11" textLength="17.6" lengthAdjust="spacingAndGlyphs">EP2</text>
<text x="492.20" y="484.20" class="s" font-family='"Liberation Serif", serif' font-size="11" textLength="23.5" lengthAdjust="spacingAndGlyphs">EP3<tspan font-size="10" dx="1.0" dy="-0.5">*</tspan></text>
<text x="492.20" y="493.10" class="s" font-family='"Liberation Serif", serif' font-size="11" textLength="17.6" lengthAdjust="spacingAndGlyphs">EP1</text>
<text x="492.20" y="502.00" class="s" font-family='"Liberation Serif", serif' font-size="11" textLength="17.6" lengthAdjust="spacingAndGlyphs">EP4</text>
<line x1="473.00" y1="485.50" x2="486.00" y2="485.50" stroke="#000" stroke-width="1.6"/>
<path d="M489.40,485.50 L482.80,481.90 L482.80,489.10 Z" fill="#000"/>
<text x="0" y="0" transform="translate(0.6,17.8) scale(1.05,1)" font-family='"Liberation Sans", sans-serif' font-weight="bold" font-size="25.5">A</text>
<text x="-1.8" y="436.5" font-family='"Liberation Sans", sans-serif' font-weight="bold" font-size="25">B</text>
<text x="53.4" y="28.8" font-family='"Liberation Sans", sans-serif' font-size="13" font-weight="bold" textLength="122" lengthAdjust="spacing">Total Bone marrow</text>
<text x="352.62" y="29.30" font-family='"Liberation Sans", sans-serif' font-size="13" textLength="23.22" lengthAdjust="spacingAndGlyphs">c-kit</text>
<text x="376.99" y="24.30" font-family='"Liberation Sans", sans-serif' font-size="7.4" font-weight="bold" textLength="4.32" lengthAdjust="spacingAndGlyphs">+</text>
<text x="386.54" y="29.30" font-family='"Liberation Sans", sans-serif' font-size="13" textLength="19.66" lengthAdjust="spacingAndGlyphs">Lin</text>
<text x="406.57" y="24.90" font-family='"Liberation Sans", sans-serif' font-size="8.8" textLength="14.75" lengthAdjust="spacingAndGlyphs">neg</text>
<text x="57.26" y="224.40" font-family='"Liberation Sans", sans-serif' font-size="13" textLength="34.53" lengthAdjust="spacingAndGlyphs">Sca-1</text>
<text x="93.59" y="219.40" font-family='"Liberation Sans", sans-serif' font-size="7.4" font-weight="bold" textLength="4.32" lengthAdjust="spacingAndGlyphs">+</text>
<text x="103.13" y="224.40" font-family='"Liberation Sans", sans-serif' font-size="13" textLength="22.81" lengthAdjust="spacingAndGlyphs">c-kit</text>
<text x="127.39" y="219.40" font-family='"Liberation Sans", sans-serif' font-size="7.4" font-weight="bold" textLength="4.32" lengthAdjust="spacingAndGlyphs">+</text>
<text x="137.00" y="224.40" font-family='"Liberation Sans", sans-serif' font-size="13" textLength="18.65" lengthAdjust="spacingAndGlyphs">Lin</text>
<text x="156.06" y="220.00" font-family='"Liberation Sans", sans-serif' font-size="8.8" textLength="14.86" lengthAdjust="spacingAndGlyphs">neg</text>
<text x="301.58" y="223.90" font-family='"Liberation Sans", sans-serif' font-size="13" textLength="34.15" lengthAdjust="spacingAndGlyphs">CD34</text>
<text x="336.25" y="219.50" font-family='"Liberation Sans", sans-serif' font-size="8.8" textLength="15.19" lengthAdjust="spacingAndGlyphs">neg</text>
<text x="356.54" y="223.90" font-family='"Liberation Sans", sans-serif' font-size="13" textLength="35.67" lengthAdjust="spacingAndGlyphs">Sca-1</text>
<text x="393.69" y="218.90" font-family='"Liberation Sans", sans-serif' font-size="7.4" font-weight="bold" textLength="4.32" lengthAdjust="spacingAndGlyphs">+</text>
<text x="401.71" y="223.90" font-family='"Liberation Sans", sans-serif' font-size="13" textLength="23.53" lengthAdjust="spacingAndGlyphs">c-kit</text>
<text x="427.89" y="218.90" font-family='"Liberation Sans", sans-serif' font-size="7.4" font-weight="bold" textLength="4.32" lengthAdjust="spacingAndGlyphs">+</text>
<text x="437.27" y="223.90" font-family='"Liberation Sans", sans-serif' font-size="13" textLength="19.21" lengthAdjust="spacingAndGlyphs">Lin</text>
<text x="456.57" y="219.50" font-family='"Liberation Sans", sans-serif' font-size="8.8" textLength="14.54" lengthAdjust="spacingAndGlyphs">neg</text>
<text x="78.00" y="446.10" font-family='"Liberation Sans", sans-serif' font-size="13" textLength="33.22" lengthAdjust="spacingAndGlyphs">CD34</text>
<text x="112.89" y="441.10" font-family='"Liberation Sans", sans-serif' font-size="7.4" font-weight="bold" textLength="4.32" lengthAdjust="spacingAndGlyphs">+</text>
<text x="121.17" y="446.10" font-family='"Liberation Sans", sans-serif' font-size="13" textLength="29.61" lengthAdjust="spacingAndGlyphs">UCB</text>
<text x="322.21" y="445.60" font-family='"Liberation Sans", sans-serif' font-size="13" textLength="32.71" lengthAdjust="spacingAndGlyphs">CD34</text>
<text x="356.79" y="440.60" font-family='"Liberation Sans", sans-serif' font-size="7.4" font-weight="bold" textLength="4.32" lengthAdjust="spacingAndGlyphs">+</text>
<text x="366.48" y="445.60" font-family='"Liberation Sans", sans-serif' font-size="13" textLength="34.14" lengthAdjust="spacingAndGlyphs">CD38</text>
<text x="401.05" y="441.20" font-family='"Liberation Sans", sans-serif' font-size="8.8" textLength="17.57" lengthAdjust="spacingAndGlyphs">neg</text>
<text x="421.53" y="445.60" font-family='"Liberation Sans", sans-serif' font-size="13" textLength="28.02" lengthAdjust="spacingAndGlyphs">UCB</text>
</svg>
</body></html>
